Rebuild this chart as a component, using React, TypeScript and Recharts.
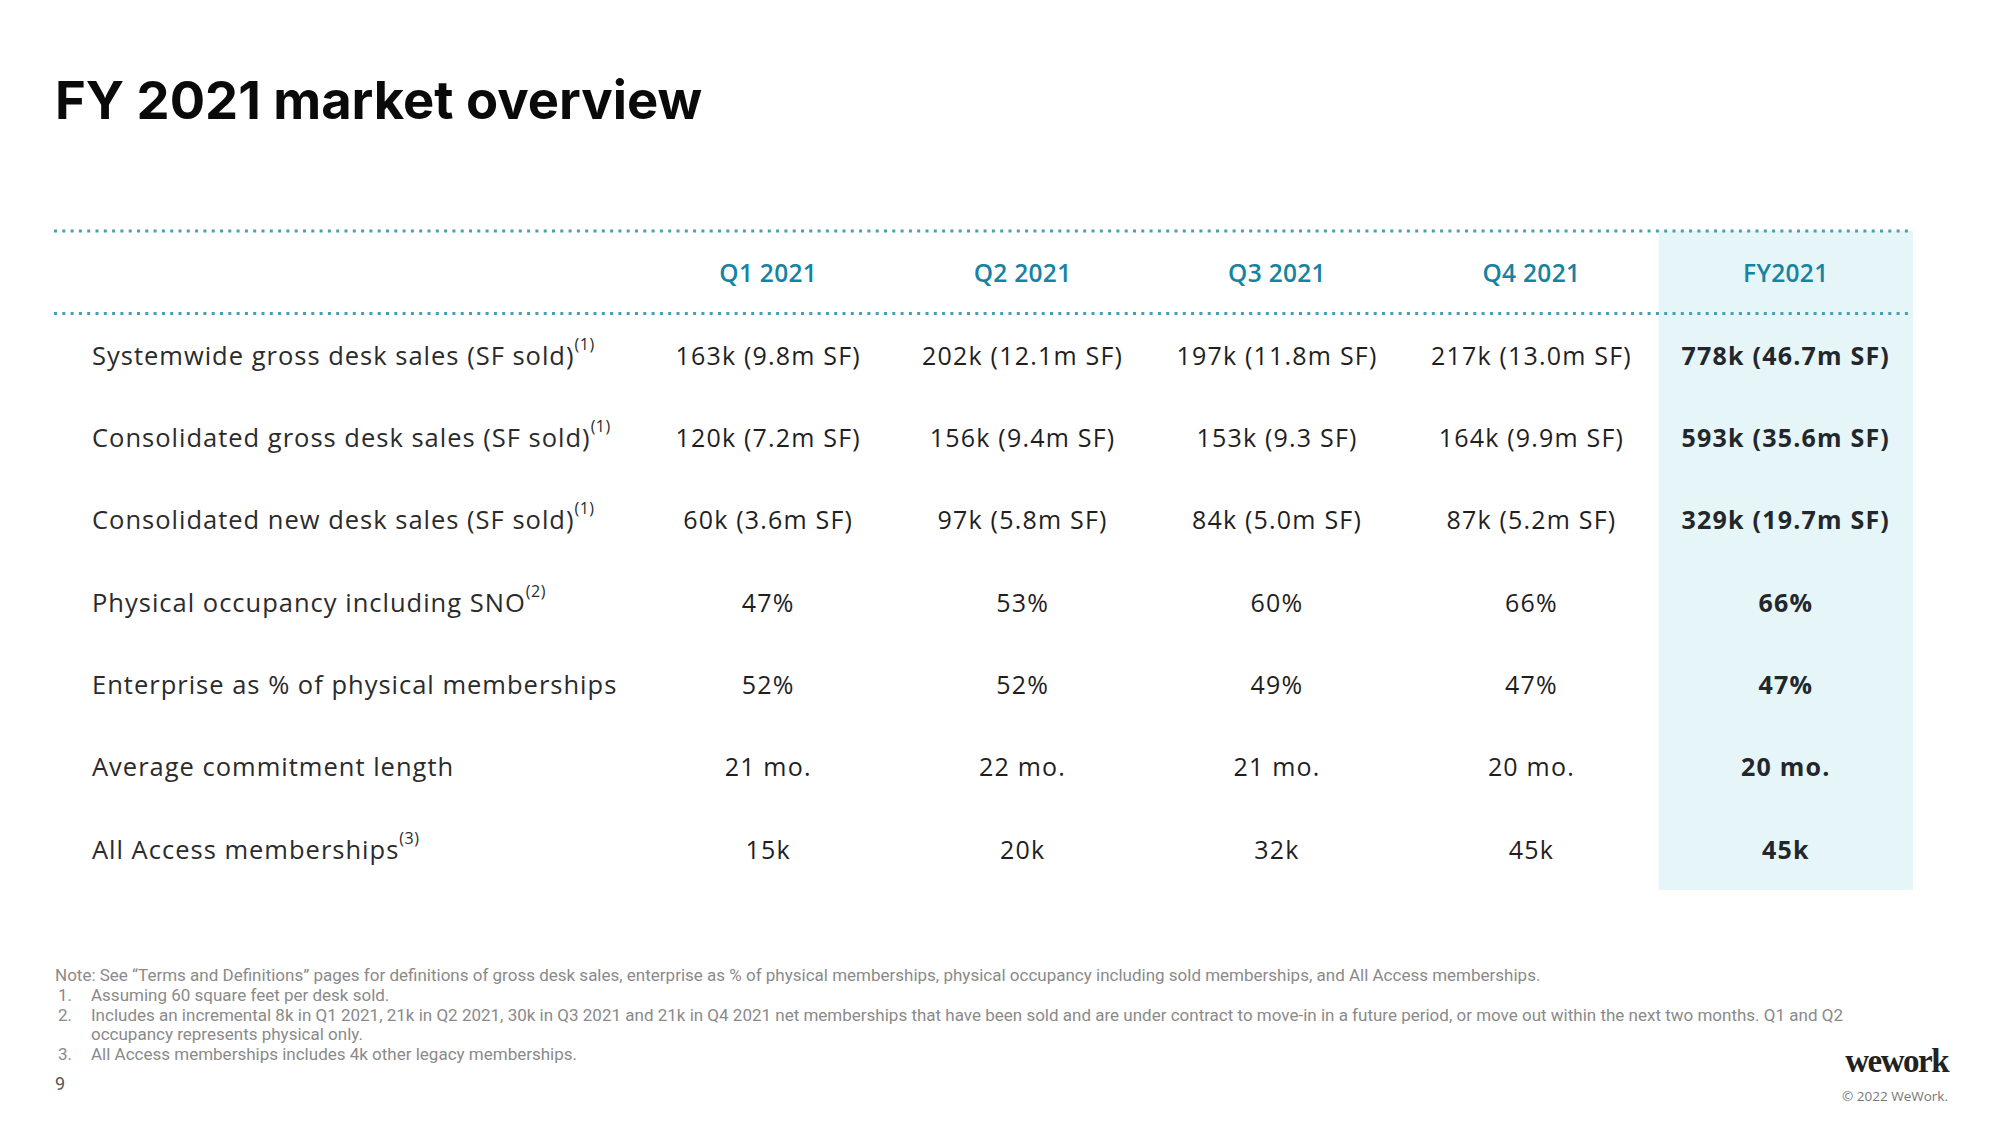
import React from "react";
import {
  ScatterChart,
  Scatter,
  XAxis,
  YAxis,
  ReferenceArea,
  ReferenceLine,
} from "recharts";

const columns = ["Q1 2021", "Q2 2021", "Q3 2021", "Q4 2021", "FY2021"];
const HEADER = "__header";

const rowLabels = [
  "Systemwide gross desk sales (SF sold)",
  "Consolidated gross desk sales (SF sold)",
  "Consolidated new desk sales (SF sold)",
  "Physical occupancy including SNO",
  "Enterprise as % of physical memberships",
  "Average commitment length",
  "All Access memberships",
];
const rowNotes = ["1", "1", "1", "2", "", "", "3"];

const systemwideGross = ["163k (9.8m SF)", "202k (12.1m SF)", "197k (11.8m SF)", "217k (13.0m SF)", "778k (46.7m SF)"];
const consolidatedGross = ["120k (7.2m SF)", "156k (9.4m SF)", "153k (9.3 SF)", "164k (9.9m SF)", "593k (35.6m SF)"];
const consolidatedNew = ["60k (3.6m SF)", "97k (5.8m SF)", "84k (5.0m SF)", "87k (5.2m SF)", "329k (19.7m SF)"];
const occupancy = ["47%", "53%", "60%", "66%", "66%"];
const enterpriseShare = ["52%", "52%", "49%", "47%", "47%"];
const commitment = ["21 mo.", "22 mo.", "21 mo.", "20 mo.", "20 mo."];
const allAccess = ["15k", "20k", "32k", "45k", "45k"];

const rowValues = [systemwideGross, consolidatedGross, consolidatedNew, occupancy, enterpriseShare, commitment, allAccess];

const footNote =
  "Note: See \u201cTerms and Definitions\u201d pages for definitions of gross desk sales, enterprise as % of physical memberships, physical occupancy including sold memberships, and All Access memberships.";
const footItems = [
  "Assuming 60 square feet per desk sold.",
  "Includes an incremental 8k in Q1 2021, 21k in Q2 2021, 30k in Q3 2021 and 21k in Q4 2021 net memberships that have been sold and are under contract to move-in in a future period, or move out within the next two months. Q1 and Q2 occupancy represents physical only.",
  "All Access memberships includes 4k other legacy memberships.",
];

const TEAL = "#1683a3";
const DOTS = "#3fa3b3";
const TABLE_FONT = "'Open Sans', sans-serif";

// one entry per table cell, header row first
const cells = [
  ...columns.map((c) => ({ col: c, row: HEADER, text: c, header: true })),
  ...rowLabels.flatMap((label, r) =>
    columns.map((c, i) => ({ col: c, row: label, text: rowValues[r][i], header: false }))
  ),
];
const labelCells = rowLabels.map((label, i) => ({ col: columns[0], row: label, note: rowNotes[i] }));

const CellText = (props: any) => {
  const { cx, cy, payload } = props;
  const isTotal = payload.col === "FY2021";
  if (payload.header) {
    return (
      <text x={cx} y={cy} textAnchor="middle" dominantBaseline="central" fill={TEAL}
        fontFamily={TABLE_FONT} fontWeight={600} fontSize={24.5} letterSpacing={0.3}>
        {payload.text}
      </text>
    );
  }
  return (
    <text x={cx} y={cy} textAnchor="middle" dominantBaseline="central" fill={isTotal ? "#23272b" : "#1f1f1f"}
      fontFamily={TABLE_FONT} fontWeight={isTotal ? 700 : 400} fontSize={25} letterSpacing={1.2}>
      {payload.text}
    </text>
  );
};

// row labels sit in the left gutter, aligned to each row's band
const RowLabel = (props: any) => {
  const { cy, payload } = props;
  return (
    <text x={92} y={cy} dominantBaseline="central" fill="#2b2b2b" fontFamily={TABLE_FONT} fontSize={25.5} letterSpacing={1}>
      {payload.row}
      {payload.note && (
        <tspan dy={-11} fontSize={16} letterSpacing={0.5}>
          ({payload.note})
        </tspan>
      )}
    </text>
  );
};

const App = () => {
  return (
    <div style={{ position: "relative", width: 2000, height: 1125, background: "#fff" }}>
      <style>{"body{margin:0}"}</style>
      <div style={{ position: "absolute", left: 55, top: 68, fontFamily: "Inter, sans-serif", fontWeight: 700, fontSize: 52.5, color: "#0a0a0a" }}>
        FY 2021 market overview
      </div>

      <ScatterChart width={2000} height={1125} margin={{ top: 231, right: 87, bottom: 235, left: 54 }}>
        <XAxis dataKey="col" type="category" scale="band" allowDuplicatedCategory={false} hide padding={{ left: 587, right: 0 }} />
        <YAxis dataKey="row" type="category" scale="band" allowDuplicatedCategory={false} reversed hide width={0} />
        <ReferenceArea x1="FY2021" x2="FY2021" fill="#e6f5f7" fillOpacity={1} stroke="none" ifOverflow="visible" />
        <ReferenceLine y={HEADER} position="start" stroke={DOTS} strokeWidth={3} strokeDasharray="3 5.3" />
        <ReferenceLine y={HEADER} position="end" stroke={DOTS} strokeWidth={3} strokeDasharray="3 5.3" />
        <Scatter data={cells} shape={<CellText />} isAnimationActive={false} />
        <Scatter data={labelCells} shape={<RowLabel />} isAnimationActive={false} />
      </ScatterChart>

      <div style={{ position: "absolute", left: 55, top: 966, width: 1880, fontFamily: "Roboto, sans-serif", fontSize: 17, lineHeight: "19.8px", color: "#8a8a8a" }}>
        <div>{footNote}</div>
        {footItems.map((t, i) => (
          <div key={i} style={{ display: "flex" }}>
            <span style={{ width: 33, paddingLeft: 3, flexShrink: 0 }}>{i + 1}.</span>
            <span style={{ maxWidth: 1765 }}>{t}</span>
          </div>
        ))}
        <div style={{ marginTop: 9, fontSize: 18, color: "#555" }}>9</div>
      </div>

      <div style={{ position: "absolute", right: 52, top: 1043, fontFamily: "'Liberation Serif', serif", fontWeight: 700, fontSize: 33, letterSpacing: -1.5, color: "#222" }}>
        wework
      </div>
      <div style={{ position: "absolute", right: 52, top: 1087, fontFamily: "'Open Sans', sans-serif", fontSize: 13.5, color: "#777" }}>
        © 2022 WeWork.
      </div>
    </div>
  );
};

export default App;
